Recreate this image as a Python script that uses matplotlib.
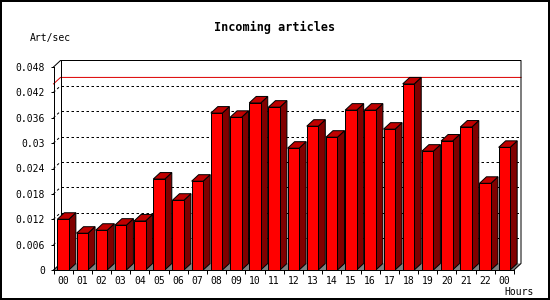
import matplotlib
matplotlib.use("Agg")
import matplotlib.pyplot as plt
from matplotlib.patches import Polygon, Rectangle
from matplotlib.ticker import FixedLocator, NullFormatter, FixedFormatter

# ---- data ----
hours = ["00", "01", "02", "03", "04", "05", "06", "07", "08", "09", "10", "11",
         "12", "13", "14", "15", "16", "17", "18", "19", "20", "21", "22", "00"]
rates = [0.0120, 0.0087, 0.0094, 0.0106, 0.0116, 0.0215, 0.0165, 0.0210,
         0.0371, 0.0361, 0.0395, 0.0385, 0.0288, 0.0340, 0.0314, 0.0378,
         0.0378, 0.0333, 0.0440, 0.0281, 0.0305, 0.0338, 0.0205, 0.0290]
y_ticks = [0, 0.006, 0.012, 0.018, 0.024, 0.03, 0.036, 0.042, 0.048]
y_labels = ["0", "0.006", "0.012", "0.018", "0.024", "0.03", "0.036", "0.042", "0.048"]
title = "Incoming articles"
y_title = "Art/sec"
x_title = "Hours"

# ---- figure geometry ----
W, H = 550, 300
fig = plt.figure(figsize=(W / 100, H / 100), dpi=100)
fig.patch.set_facecolor("white")

ax_l, ax_r = 53.5, 514.0       # px from left
ax_b, ax_t = 270.0, 67.0       # px from top
ax = fig.add_axes([ax_l / W, (H - ax_b) / H, (ax_r - ax_l) / W, (ax_b - ax_t) / H])
n = len(rates)
ymax = y_ticks[-1]
ax.set_xlim(0, n)
ax.set_ylim(0, ymax)
ax.set_facecolor("none")

# depth offsets (px -> data units)
dx_px, dy_px = 7.0, 6.5
dx = dx_px * n / (ax_r - ax_l)
dy = dy_px * ymax / (ax_b - ax_t)

lw = 0.72  # 1 px

# floor
ax.add_patch(Polygon([(0, 0), (n, 0), (n + dx, dy), (dx, dy)], closed=True,
                     facecolor="#808080", edgecolor="none", clip_on=False, zorder=1))

# back wall gridlines and side-wall diagonals
for v in y_ticks[1:-1]:
    ax.plot([dx, n + dx], [v + dy, v + dy], color="black", lw=lw,
            linestyle=(0, (2.5, 2.5)), clip_on=False, zorder=2)
    ax.plot([0, dx], [v, v + dy], color="black", lw=lw,
            linestyle=(0, (2.5, 2.5)), clip_on=False, zorder=2)

# max line (red)
m = max(rates)
ax.plot([0, dx, n + dx], [m, m + dy, m + dy], color="#dd0000", lw=lw,
        clip_on=False, zorder=2)

# box outline
ax.plot([0, dx, n + dx, n + dx, n], [ymax, ymax + dy, ymax + dy, dy, 0],
        color="black", lw=lw, clip_on=False, zorder=2)
ax.plot([dx, dx], [dy, ymax + dy], color="black", lw=lw, clip_on=False, zorder=2)
ax.plot([0, dx], [0, dy], color="black", lw=lw, clip_on=False, zorder=2)

# 3D bars
bw = 0.6
for i, v in enumerate(rates):
    x0 = i + (1 - bw) / 2
    x1 = x0 + bw
    z = 3 + i * 0.01
    ax.add_patch(Polygon([(x1, 0), (x1, v), (x1 + dx, v + dy), (x1 + dx, dy)],
                         closed=True, facecolor="#800000", edgecolor="black",
                         lw=lw, clip_on=False, zorder=z))
    ax.add_patch(Polygon([(x0, v), (x1, v), (x1 + dx, v + dy), (x0 + dx, v + dy)],
                         closed=True, facecolor="#c00000", edgecolor="black",
                         lw=lw, clip_on=False, zorder=z))
    ax.add_patch(Rectangle((x0, 0), bw, v, facecolor="#ff0000", edgecolor="black",
                           lw=lw, clip_on=False, zorder=z))

# axes / ticks
for s in ["top", "right"]:
    ax.spines[s].set_visible(False)
for s in ["left", "bottom"]:
    ax.spines[s].set_linewidth(lw)
    ax.spines[s].set_zorder(10)

mono = "DejaVu Sans Mono"
ax.set_yticks(y_ticks)
ax.set_yticklabels(y_labels, fontsize=7, family=mono)
ax.tick_params(axis="y", direction="out", length=2.5, width=lw, pad=3.6)

ax.xaxis.set_major_locator(FixedLocator(list(range(n + 1))))
ax.xaxis.set_major_formatter(NullFormatter())
ax.xaxis.set_minor_locator(FixedLocator([i + 0.5 for i in range(n)]))
ax.xaxis.set_minor_formatter(FixedFormatter(hours))
ax.tick_params(axis="x", which="major", direction="out", length=3.2, width=lw)
ax.tick_params(axis="x", which="minor", length=0, pad=4.3, labelsize=7)
for t in ax.xaxis.get_minorticklabels():
    t.set_family(mono)

# texts
fig.text(274.5 / W, 1 - 27 / H, title, ha="center", va="center",
         fontsize=8.5, fontweight="bold", family=mono)
fig.text(30 / W, 1 - 37.5 / H, y_title, ha="left", va="center", fontsize=7, family=mono)
fig.text(504 / W, 1 - 292 / H, x_title, ha="left", va="center", fontsize=7, family=mono)

# outer border
fig.add_artist(Rectangle((1 / W, 1 / H), (W - 2) / W, (H - 2) / H,
                         transform=fig.transFigure, fill=False,
                         edgecolor="black", lw=1.44))

fig.savefig("out.png", dpi=100)
